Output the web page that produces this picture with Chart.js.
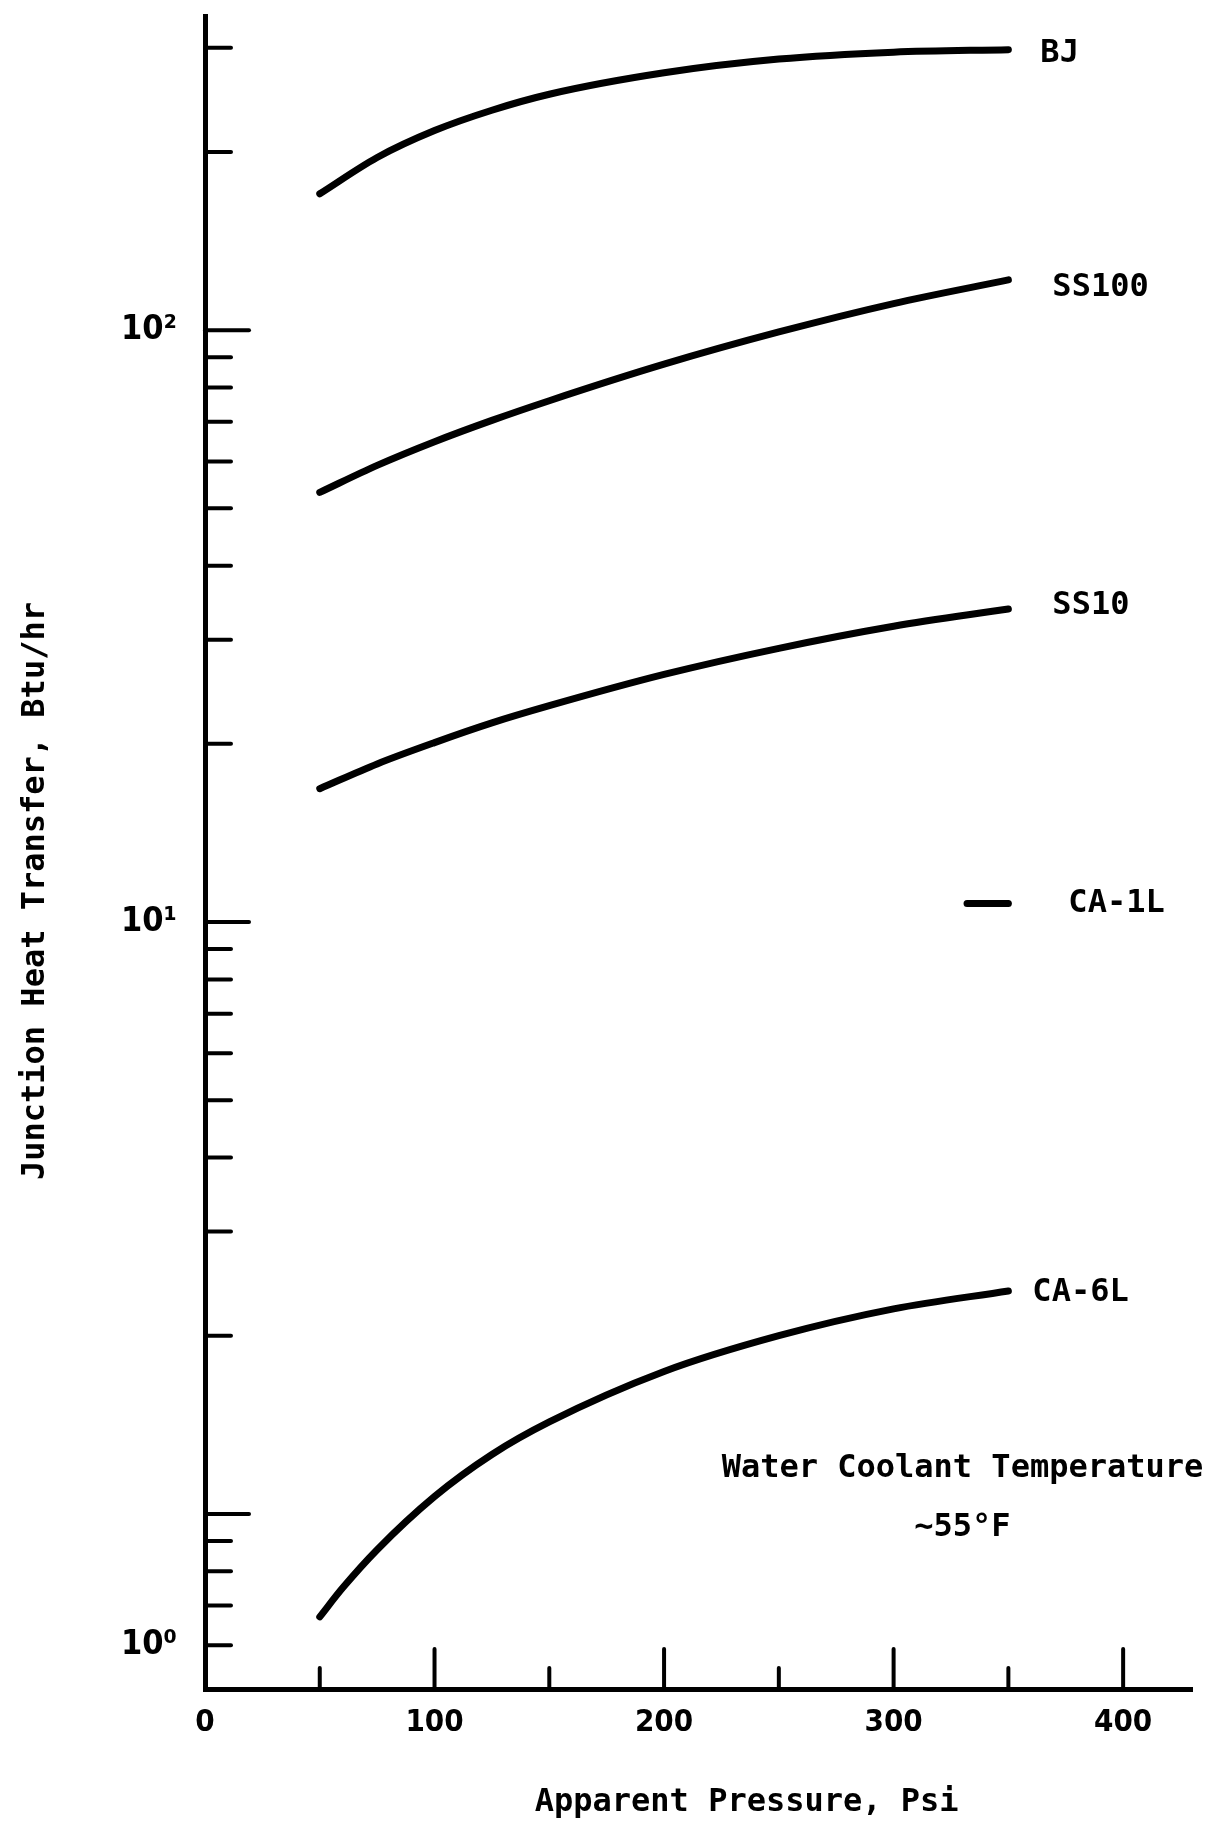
<!DOCTYPE html>
<html>
<head>
<meta charset="utf-8">
<script src="https://cdn.jsdelivr.net/npm/chart.js@4.4.0/dist/chart.umd.min.js"></script>
<style>
  body { margin: 0; background: #fff; }
  #wrap { width: 1215px; height: 1830px; }
</style>
</head>
<body>
<div id="wrap"><canvas id="myChart"></canvas></div>
<script>
let pressure = [50, 75, 100, 125, 150, 200, 250, 300, 350];

// junction heat transfer, Btu/hr
let bj    = [170, 195.8, 217.4, 235.3, 250.4, 272.2, 287.1, 294.9, 297.8];
let ss100 = [53.2, 59.1, 64.8, 70.4, 76.0, 87.6, 99.3, 110.9, 121.6];
let ss10  = [16.8, 18.5, 20.1, 21.7, 23.2, 26.2, 29.0, 31.6, 33.8];
// CA-6L bends hard near 50 psi, so one more reading there
let ca6lPressure = [50, 60, 75, 100, 125, 150, 200, 250, 300, 350];
let ca6l  = [0.67, 0.75, 0.87, 1.07, 1.26, 1.43, 1.74, 2.0, 2.22, 2.38];
// CA-1L is only a short stub near the right end
let ca1lPressure = [332, 350];
let ca1l = [10.75, 10.75];

let seriesNames = ['BJ', 'SS100', 'SS10', 'CA-1L', 'CA-6L'];

let xTicks = [0, 50, 100, 150, 200, 250, 300, 350, 400];
let xLabelValues = [0, 100, 200, 300, 400];
let yTicks = [0.6, 0.7, 0.8, 0.9, 1, 2, 3, 4, 5, 6, 7, 8, 9,
              10, 20, 30, 40, 50, 60, 70, 80, 90, 100, 200, 300];
let yMajor = [1, 10, 100];
let yLabelValues = [0.6, 10, 100];
let yLabelTexts = ['10⁰', '10¹', '10²'];

let noteLines = ['Water Coolant Temperature', '~55°F'];

const FONT = "'DejaVu Sans Mono', monospace";
const NUMFONT = "'DejaVu Sans Condensed', sans-serif";

function pts(xs, ys) { return xs.map((x, i) => ({x: x, y: ys[i]})); }

// label offsets from the end of each curve (px)
let labelOffsets = {'BJ': [32, 4], 'SS100': [44, 8], 'SS10': [44, -3], 'CA-1L': [60, 0], 'CA-6L': [24, 2]};

const marks = {
  id: 'marks',
  afterDatasetsDraw(chart) {
    const ctx = chart.ctx, x = chart.scales.x, y = chart.scales.y, area = chart.chartArea;
    ctx.save();
    ctx.strokeStyle = '#000';
    ctx.lineWidth = 4;
    ctx.lineCap = 'round';
    // inward tick marks
    x.ticks.forEach(t => {
      if (t.value === 0) return;
      const px = x.getPixelForValue(t.value);
      const len = t.value % 100 === 0 ? 40 : 21;
      ctx.beginPath(); ctx.moveTo(px, area.bottom); ctx.lineTo(px, area.bottom - len); ctx.stroke();
    });
    y.ticks.forEach(t => {
      const py = y.getPixelForValue(t.value);
      const len = yMajor.includes(t.value) ? 44 : 26;
      ctx.beginPath(); ctx.moveTo(area.left, py); ctx.lineTo(area.left + len, py); ctx.stroke();
    });
    // curve labels
    ctx.fillStyle = '#000';
    ctx.font = 'bold 32px ' + FONT;
    ctx.textBaseline = 'middle';
    ctx.textAlign = 'left';
    chart.data.datasets.forEach(ds => {
      const last = ds.data[ds.data.length - 1];
      const off = labelOffsets[ds.label];
      ctx.fillText(ds.label, x.getPixelForValue(last.x) + off[0], y.getPixelForValue(last.y) + off[1]);
    });
    // coolant note
    ctx.textAlign = 'center';
    const nx = x.getPixelForValue(330), ny = y.getPixelForValue(1.19);
    noteLines.forEach((s, i) => ctx.fillText(s, nx, ny + i * 59));
    ctx.restore();
  }
};

let ctx = document.getElementById('myChart').getContext('2d');
let allSeries = [pts(pressure, bj), pts(pressure, ss100), pts(pressure, ss10), pts(ca1lPressure, ca1l), pts(ca6lPressure, ca6l)];

let myChart = new Chart(ctx, {
  type: 'line',
  data: {
    datasets: seriesNames.map((name, i) => ({
      label: name,
      data: allSeries[i],
      borderColor: '#000',
      borderWidth: 7,
      borderCapStyle: 'round',
      pointRadius: 0,
      cubicInterpolationMode: 'monotone',
      fill: false
    }))
  },
  options: {
    responsive: true,
    maintainAspectRatio: false,
    animation: false,
    layout: { padding: { top: 16, right: 23, left: 10, bottom: 0 } },
    plugins: { legend: { display: false }, tooltip: { enabled: false } },
    scales: {
      x: {
        type: 'linear',
        min: 0,
        max: 430,
        afterBuildTicks: s => { s.ticks = xTicks.map(v => ({value: v})); },
        afterFit: s => { s.height = 141; s.paddingLeft = 0; s.paddingRight = 0; },
        grid: { display: false, drawTicks: false },
        border: { display: true, color: '#000', width: 5 },
        ticks: {
          autoSkip: false,
          maxRotation: 0,
          padding: 15,
          color: '#000',
          font: { family: NUMFONT, size: 31, weight: 'bold' },
          callback: v => xLabelValues.includes(v) ? String(v) : ''
        },
        title: {
          display: true,
          text: '     Apparent Pressure, Psi',
          color: '#000',
          font: { family: FONT, size: 32, weight: 'bold' },
          padding: { top: 0, bottom: 8 }
        }
      },
      y: {
        type: 'logarithmic',
        min: 0.506,
        max: 339.5,
        afterBuildTicks: s => { s.ticks = yTicks.map(v => ({value: v})); },
        afterFit: s => { s.width = 195; s.paddingTop = 0; s.paddingBottom = 0; },
        grid: { display: false, drawTicks: false },
        border: { display: true, color: '#000', width: 5 },
        ticks: {
          autoSkip: false,
          padding: 28,
          color: '#000',
          font: { family: NUMFONT, size: 34, weight: 'bold' },
          callback: v => {
            let k = yLabelValues.indexOf(v);
            return k >= 0 ? yLabelTexts[k] : '';
          }
        },
        title: {
          display: true,
          text: 'Junction Heat Transfer, Btu/hr    ',
          color: '#000',
          font: { family: FONT, size: 32, weight: 'bold' },
          padding: { top: 6, bottom: 0 }
        }
      }
    }
  },
  plugins: [marks]
});
</script>
</body>
</html>
